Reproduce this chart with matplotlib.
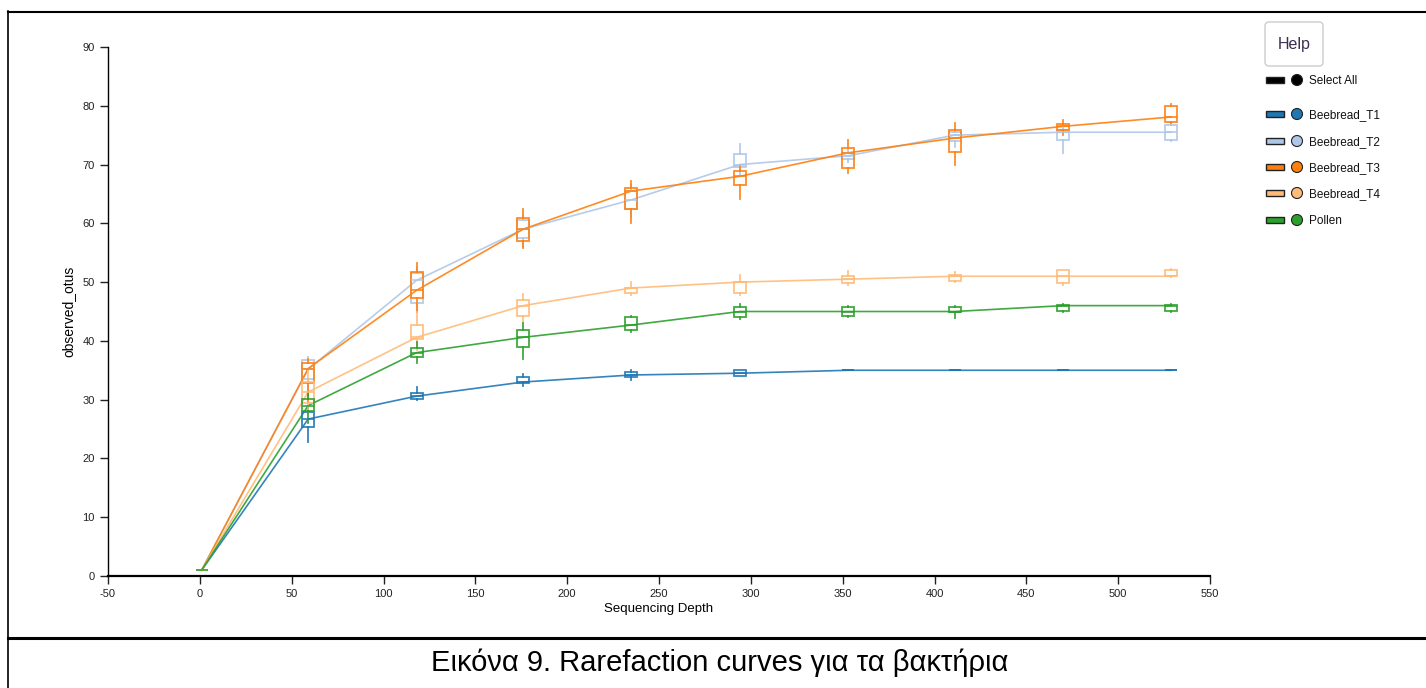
import matplotlib.pyplot as plt
from matplotlib.patches import Rectangle, Circle, FancyBboxPatch

plt.rcParams["font.family"] = ["Liberation Sans", "DejaVu Sans"]
plt.rcParams["axes.unicode_minus"] = False

depths = [1, 59, 118, 176, 235, 294, 353, 411, 470, 529]

names = ["Beebread_T1", "Beebread_T2", "Beebread_T3", "Beebread_T4", "Pollen"]
colors = ["#1f77b4", "#aec7e8", "#ff7f0e", "#ffbb78", "#2ca02c"]

t1_mean = [1, 26.7, 30.6, 33.0, 34.2, 34.5, 35.0, 35.0, 35.0, 35.0]
t1_q1 = [1, 25.3, 30.1, 32.8, 33.9, 34.0, 35.0, 35.0, 35.0, 35.0]
t1_q3 = [1, 27.9, 31.1, 33.9, 34.7, 35.0, 35.0, 35.0, 35.0, 35.0]
t1_lo = [1, 22.8, 30.0, 32.4, 33.3, 34.0, 35.0, 35.0, 35.0, 35.0]
t1_hi = [1, 28.7, 32.2, 34.4, 35.0, 35.0, 35.0, 35.0, 35.0, 35.0]

t2_mean = [1, 35.2, 50.3, 59.0, 64.0, 70.0, 71.5, 75.0, 75.5, 75.5]
t2_q1 = [1, 33.5, 46.5, 57.5, 62.5, 69.6, 71.0, 74.0, 74.2, 74.2]
t2_q3 = [1, 36.7, 51.5, 60.5, 65.5, 71.8, 72.0, 75.5, 75.9, 76.7]
t2_lo = [1, 31.0, 45.0, 56.0, 61.0, 68.0, 70.5, 73.0, 72.0, 74.0]
t2_hi = [1, 37.3, 52.5, 61.5, 66.5, 73.5, 72.5, 76.0, 76.5, 77.0]

t3_mean = [1, 35.3, 48.6, 59.0, 65.5, 68.0, 72.0, 74.5, 76.5, 78.1]
t3_q1 = [1, 32.8, 47.3, 57.0, 62.4, 66.5, 69.4, 72.2, 75.9, 77.2]
t3_q3 = [1, 36.2, 51.7, 60.9, 66.0, 68.9, 72.8, 75.9, 76.9, 80.0]
t3_lo = [1, 29.5, 45.0, 55.8, 60.0, 64.1, 68.6, 69.9, 75.0, 77.0]
t3_hi = [1, 37.0, 53.2, 62.4, 67.2, 70.0, 74.2, 77.1, 77.6, 80.3]

t4_mean = [1, 31.3, 40.6, 46.0, 49.0, 50.0, 50.5, 51.0, 51.0, 51.0]
t4_q1 = [1, 29.5, 40.3, 44.2, 48.2, 48.2, 49.8, 50.2, 49.8, 51.0]
t4_q3 = [1, 33.0, 42.7, 47.0, 49.0, 50.0, 51.0, 51.2, 52.1, 52.1]
t4_lo = [1, 27.5, 38.5, 43.2, 47.8, 47.8, 49.5, 50.0, 49.5, 50.8]
t4_hi = [1, 35.0, 45.0, 48.0, 50.0, 51.2, 51.9, 51.7, 52.1, 52.3]

pollen_mean = [1, 29.0, 38.0, 40.6, 42.7, 45.0, 45.0, 45.0, 46.0, 46.0]
pollen_q1 = [1, 28.1, 37.3, 39.0, 41.8, 44.0, 44.2, 44.9, 45.1, 45.1]
pollen_q3 = [1, 30.1, 38.8, 41.8, 44.0, 45.8, 45.8, 45.8, 46.1, 46.1]
pollen_lo = [1, 26.0, 36.2, 37.0, 41.5, 43.8, 44.0, 43.9, 45.0, 45.0]
pollen_hi = [1, 31.1, 39.8, 43.0, 44.3, 46.2, 46.0, 46.0, 46.3, 46.3]

series = [
    (t1_mean, t1_q1, t1_q3, t1_lo, t1_hi),
    (t2_mean, t2_q1, t2_q3, t2_lo, t2_hi),
    (t3_mean, t3_q1, t3_q3, t3_lo, t3_hi),
    (t4_mean, t4_q1, t4_q3, t4_lo, t4_hi),
    (pollen_mean, pollen_q1, pollen_q3, pollen_lo, pollen_hi),
]

W, H = 1426, 688
fig = plt.figure(figsize=(W / 100, H / 100), dpi=100)
ax = fig.add_axes([108 / W, 1 - 576 / H, (1210 - 108) / W, (576 - 47) / H])

for (mean, q1, q3, lo, hi), color in zip(series, colors):
    ax.plot(depths, mean, color=color, lw=1.2, alpha=0.9, zorder=2)
    stats = [
        {"med": m, "q1": a, "q3": b, "whislo": l, "whishi": h}
        for m, a, b, l, h in zip(mean, q1, q3, lo, hi)
    ]
    ax.bxp(
        stats,
        positions=depths,
        widths=6.5,
        showcaps=False,
        showfliers=False,
        patch_artist=True,
        manage_ticks=False,
        boxprops=dict(facecolor="none", edgecolor=color, lw=1.3, alpha=0.9),
        whiskerprops=dict(color=color, lw=1.3, alpha=0.9),
        medianprops=dict(color=color, lw=1.1),
        zorder=3,
    )

ax.set_xlim(-50, 550)
ax.set_ylim(0, 90)
ax.set_xticks(range(-50, 551, 50))
ax.set_yticks(range(0, 91, 10))
ax.tick_params(direction="out", length=6, width=1, labelsize=8, colors="#222222")
for side in ["top", "right"]:
    ax.spines[side].set_visible(False)
ax.spines["left"].set_linewidth(1)
ax.spines["bottom"].set_linewidth(1.6)
ax.set_xlabel("Sequencing Depth", fontsize=9.5, labelpad=3)
ax.set_ylabel("observed_otus", fontsize=10, labelpad=5)

# overlay in pixel coords for legend widget, frame and caption
ov = fig.add_axes([0, 0, 1, 1], zorder=5)
ov.set_xlim(0, W)
ov.set_ylim(H, 0)
ov.axis("off")
ov.patch.set_alpha(0)

ov.add_patch(FancyBboxPatch((1265, 22), 58, 44, boxstyle="round,pad=0,rounding_size=4",
                            facecolor="white", edgecolor="#cccccc", lw=1))
ov.text(1294, 45, "Help", ha="center", va="center", fontsize=11.5, color="#3a2f4f")

rows_y = [80, 114, 141, 167, 193, 220]
labels = ["Select All"] + names
swatches = ["black"] + colors
for y, lab, c in zip(rows_y, labels, swatches):
    ov.add_patch(Rectangle((1266, y - 3), 18, 6, facecolor=c, edgecolor="#222222", lw=1))
    ov.add_patch(Circle((1297, y), 5.5, facecolor=c, edgecolor="#222222", lw=0.8))
    ov.text(1309, y + 1, lab, ha="left", va="center", fontsize=8.5, color="#111111")

ov.plot([8, W], [11.5, 11.5], color="black", lw=1.5)
ov.plot([8, 8], [11, H], color="black", lw=1.2)
ov.plot([8, W], [638, 638], color="black", lw=2.2)
ov.text(720, 663, "Εικόνα 9. Rarefaction curves για τα βακτήρια", ha="center", va="center",
        fontsize=21, color="black")

fig.savefig("out.png", dpi=100)
